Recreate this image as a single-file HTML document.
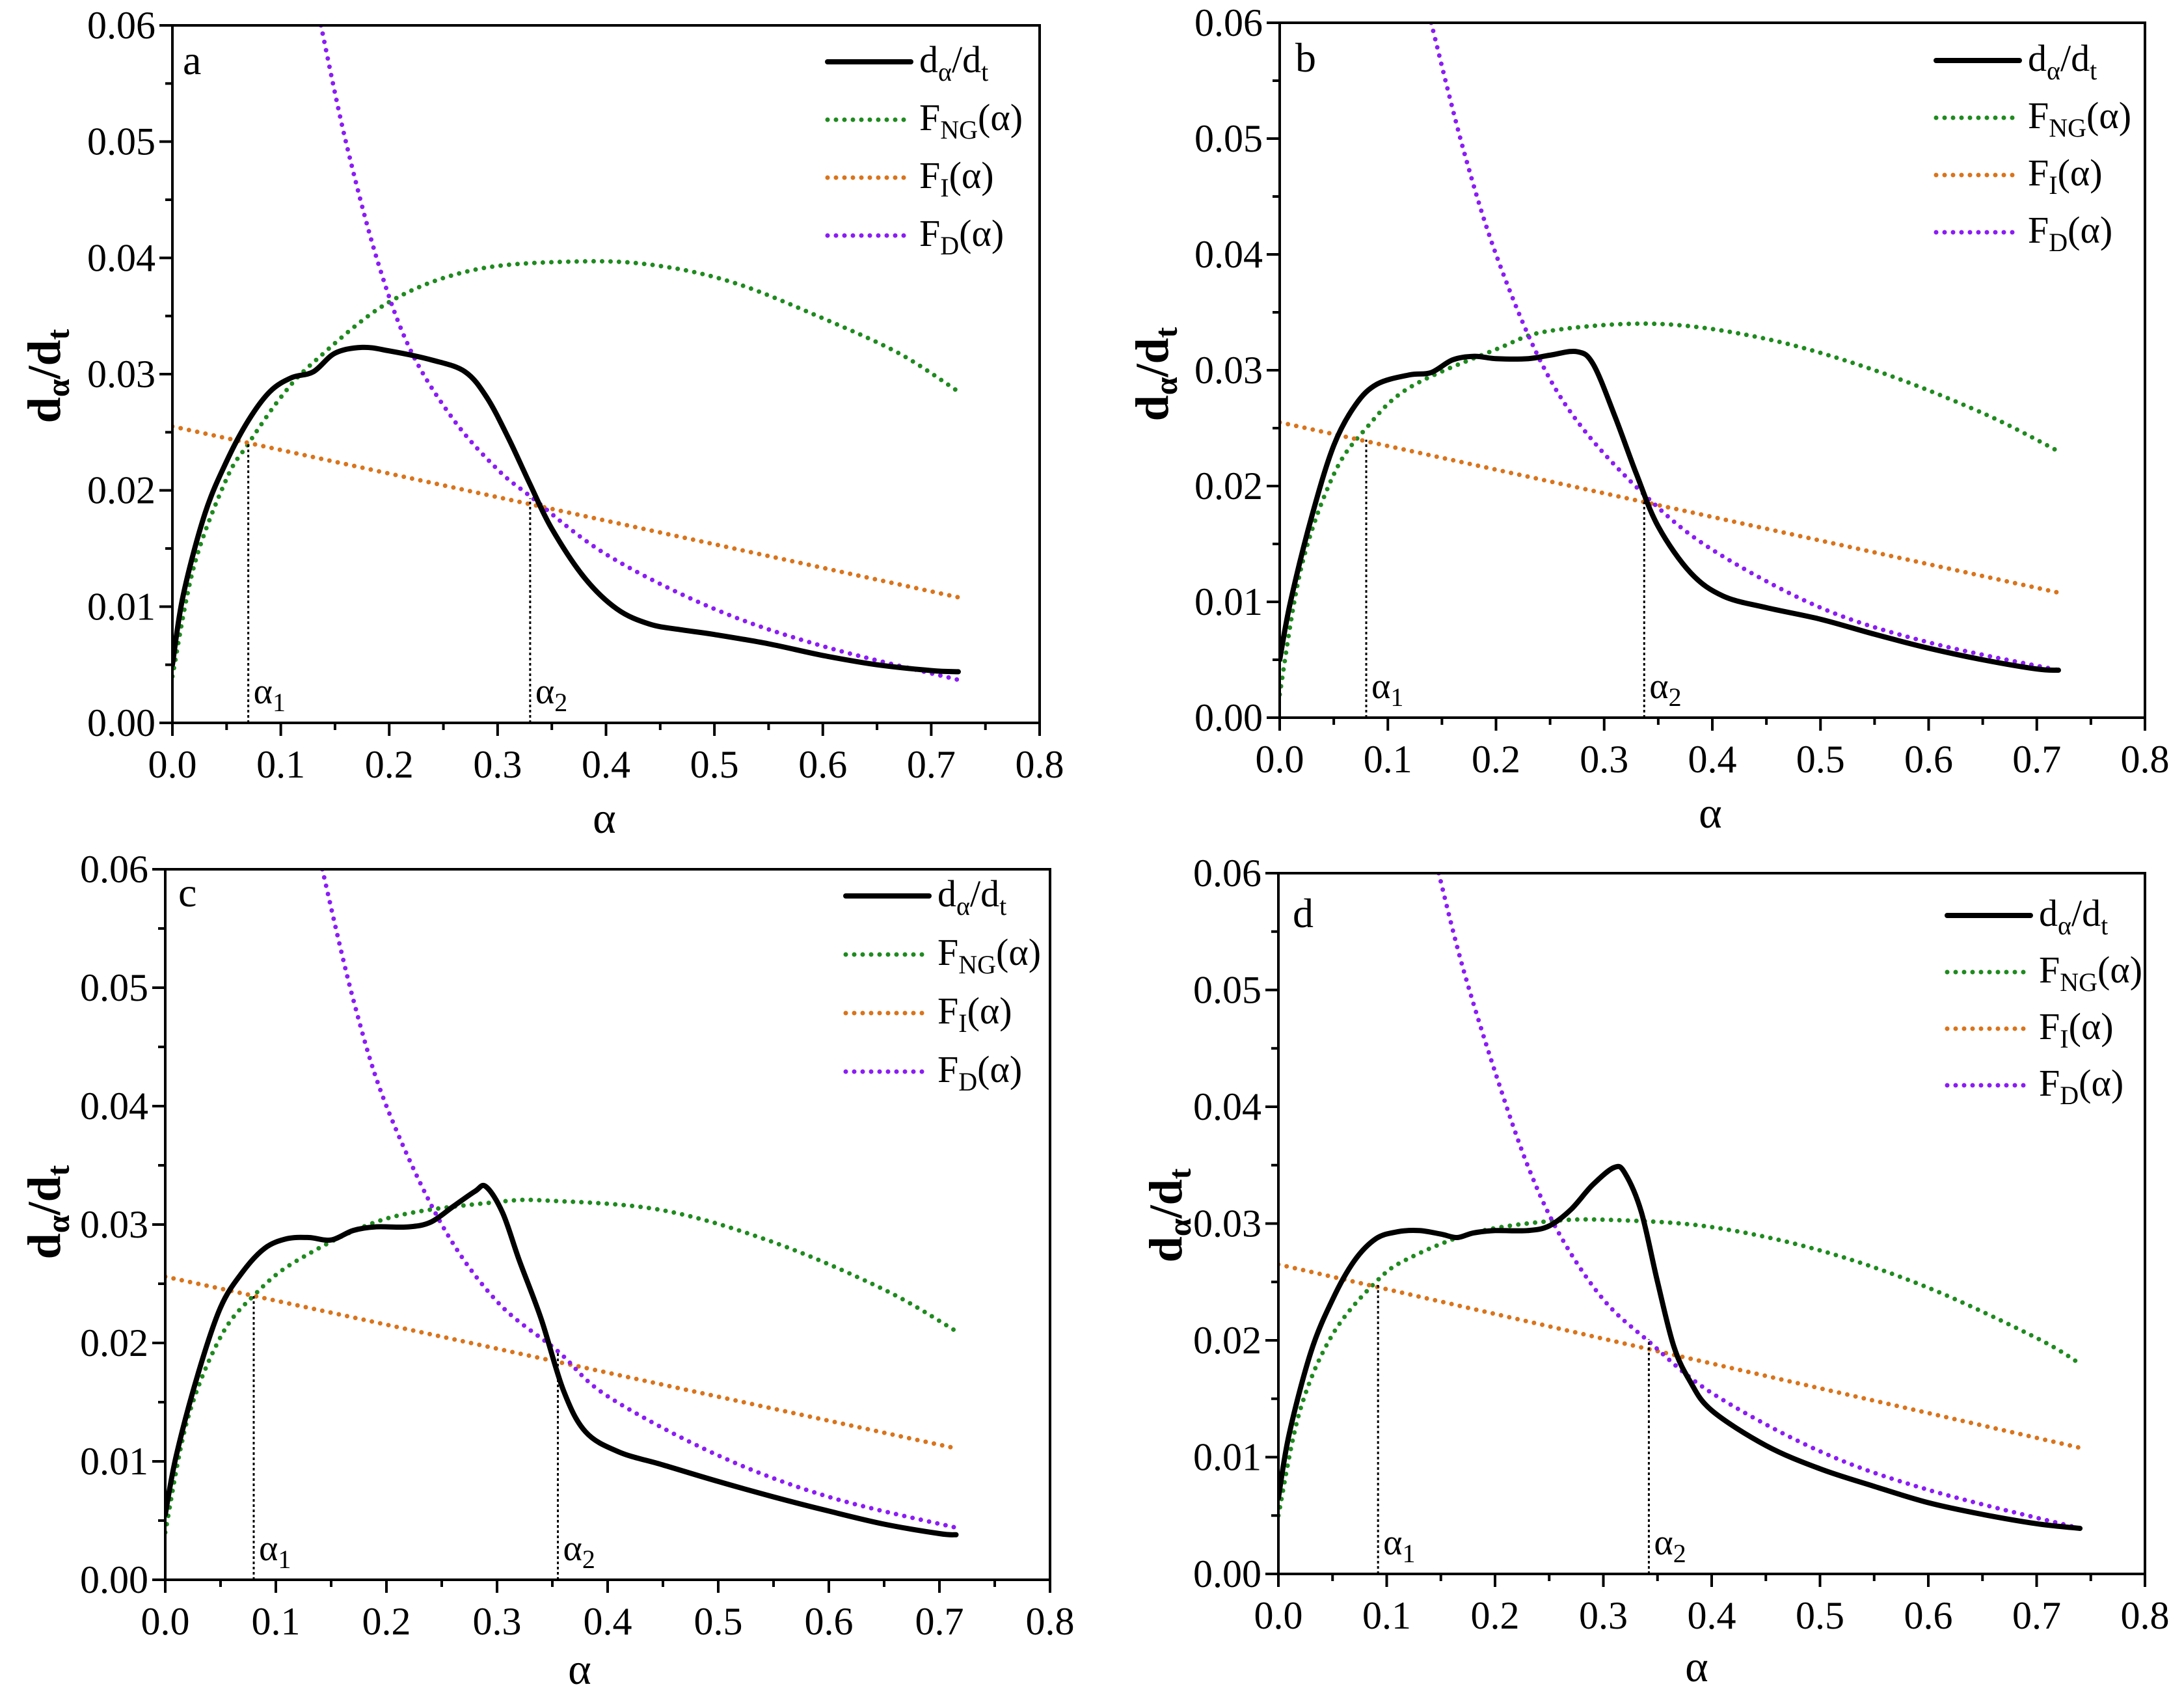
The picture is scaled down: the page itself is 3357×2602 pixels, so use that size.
<!DOCTYPE html>
<html><head><meta charset="utf-8">
<style>
html,body{margin:0;padding:0;background:#fff;}
svg{display:block;font-family:"Liberation Serif","Times New Roman",serif;}
</style></head>
<body>
<svg id="fig" width="3357" height="2602" viewBox="0 0 3357 2602" xmlns="http://www.w3.org/2000/svg"></svg>
<script>
// ---- data (alpha, value) per panel ----
const panelLetters = ["a","b","c","d"];
const xTicks = [0,0.1,0.2,0.3,0.4,0.5,0.6,0.7,0.8];
const xTickLabels = ["0.0","0.1","0.2","0.3","0.4","0.5","0.6","0.7","0.8"];
const yTicks = [0,0.01,0.02,0.03,0.04,0.05,0.06];
const yTickLabels = ["0.00","0.01","0.02","0.03","0.04","0.05","0.06"];

const rateA = [[0,0.005],[0.01,0.011],[0.03,0.018],[0.05,0.0225],[0.07,0.026],[0.09,0.0285],[0.11,0.0297],[0.13,0.0302],[0.15,0.0318],[0.175,0.0323],[0.2,0.032],[0.24,0.0312],[0.27,0.0302],[0.29,0.028],[0.31,0.0245],[0.33,0.0205],[0.35,0.0167],[0.38,0.0125],[0.41,0.0098],[0.44,0.0085],[0.47,0.008],[0.5,0.0076],[0.55,0.0068],[0.6,0.0058],[0.65,0.005],[0.7,0.0045],[0.725,0.0044]];
const ngA = [[0,0.004],[0.02,0.0135],[0.05,0.021],[0.07,0.024],[0.1,0.028],[0.13,0.031],[0.2,0.0362],[0.28,0.039],[0.38,0.0397],[0.45,0.0393],[0.52,0.0378],[0.6,0.0348],[0.67,0.0318],[0.725,0.0285]];
const fiA = [[0,0.0255],[0.725,0.0108]];
const fdA = [[0.137,0.06],[0.16,0.05],[0.19,0.0395],[0.22,0.032],[0.26,0.026],[0.3,0.0218],[0.33,0.0195],[0.4,0.0145],[0.5,0.0098],[0.6,0.0066],[0.725,0.0037]];
const alphaA = [[0.07,0.024],[0.33,0.0193]];

const rateB = [[0,0.005],[0.01,0.01],[0.03,0.0175],[0.05,0.0235],[0.07,0.027],[0.09,0.0288],[0.12,0.0296],[0.14,0.0298],[0.16,0.0309],[0.18,0.0312],[0.2,0.031],[0.23,0.031],[0.25,0.0313],[0.275,0.0316],[0.29,0.0305],[0.31,0.026],[0.33,0.021],[0.35,0.0165],[0.38,0.0125],[0.41,0.0105],[0.45,0.0095],[0.5,0.0085],[0.55,0.0072],[0.6,0.006],[0.65,0.005],[0.7,0.0042],[0.72,0.0041]];
const ngB = [[0,0.002],[0.02,0.013],[0.05,0.021],[0.08,0.025],[0.12,0.0285],[0.2,0.0318],[0.25,0.0334],[0.35,0.034],[0.45,0.0327],[0.55,0.03],[0.65,0.0263],[0.72,0.023]];
const fiB = [[0,0.0255],[0.72,0.0108]];
const fdB = [[0.14,0.06],[0.17,0.049],[0.2,0.04],[0.24,0.031],[0.28,0.025],[0.34,0.019],[0.4,0.0145],[0.5,0.0095],[0.6,0.0065],[0.72,0.0041]];
const alphaB = [[0.08,0.024],[0.337,0.0193]];

const rateC = [[0,0.0055],[0.01,0.0105],[0.03,0.0175],[0.05,0.023],[0.07,0.026],[0.09,0.028],[0.11,0.0288],[0.13,0.0289],[0.15,0.0287],[0.17,0.0295],[0.19,0.0298],[0.22,0.0298],[0.24,0.0302],[0.26,0.0315],[0.28,0.0328],[0.29,0.0332],[0.305,0.031],[0.32,0.027],[0.34,0.022],[0.36,0.016],[0.38,0.0125],[0.41,0.0108],[0.45,0.0097],[0.5,0.0083],[0.55,0.007],[0.6,0.0058],[0.65,0.0047],[0.7,0.0039],[0.715,0.0038]];
const ngC = [[0,0.004],[0.02,0.0135],[0.05,0.0205],[0.08,0.024],[0.12,0.027],[0.2,0.0305],[0.3,0.0319],[0.35,0.032],[0.45,0.0312],[0.55,0.0285],[0.65,0.0245],[0.715,0.021]];
const fiC = [[0,0.0256],[0.715,0.0111]];
const fdC = [[0.142,0.06],[0.17,0.049],[0.2,0.04],[0.25,0.03],[0.3,0.0235],[0.355,0.0193],[0.4,0.0155],[0.5,0.0105],[0.6,0.007],[0.715,0.0044]];
const alphaC = [[0.08,0.024],[0.355,0.0193]];

const rateD = [[0,0.0065],[0.01,0.012],[0.03,0.019],[0.05,0.0235],[0.07,0.0268],[0.09,0.0287],[0.11,0.0293],[0.13,0.0294],[0.15,0.0291],[0.165,0.0288],[0.18,0.0292],[0.2,0.0294],[0.23,0.0294],[0.25,0.0298],[0.27,0.0312],[0.29,0.0333],[0.31,0.0348],[0.32,0.0343],[0.335,0.031],[0.35,0.025],[0.365,0.0195],[0.38,0.0165],[0.4,0.014],[0.45,0.011],[0.5,0.009],[0.55,0.0075],[0.6,0.0061],[0.65,0.0051],[0.7,0.0043],[0.74,0.0039]];
const ngD = [[0,0.005],[0.02,0.014],[0.05,0.0205],[0.09,0.025],[0.12,0.027],[0.18,0.0292],[0.25,0.0302],[0.31,0.0303],[0.4,0.0297],[0.5,0.0277],[0.6,0.0245],[0.7,0.0202],[0.74,0.018]];
const fiD = [[0,0.0265],[0.74,0.0108]];
const fdD = [[0.148,0.06],[0.17,0.052],[0.2,0.043],[0.23,0.035],[0.26,0.029],[0.3,0.0235],[0.342,0.0199],[0.4,0.0155],[0.5,0.0105],[0.6,0.0072],[0.74,0.0039]];
const alphaD = [[0.092,0.0249],[0.342,0.0201]];

// ---- layout ----
const panels = [
 {L:265,R:1598,T:39,B:1111, rate:rateA, ng:ngA, fi:fiA, fd:fdA, al:alphaA, leg:[1272,95,89], ylab:[70,578], xlab:[929,1280], let:[281,96]},
 {L:1967,R:3297,T:35,B:1103, rate:rateB, ng:ngB, fi:fiB, fd:fdB, al:alphaB, leg:[2976,93,88], ylab:[1773,575], xlab:[2629,1272], let:[1991,92]},
 {L:254,R:1614,T:1336,B:2428, rate:rateC, ng:ngC, fi:fiC, fd:fdC, al:alphaC, leg:[1300,1377,90], ylab:[70,1863], xlab:[891,2588], let:[274,1375]},
 {L:1965,R:3297,T:1342,B:2419, rate:rateD, ng:ngD, fi:fiD, fd:fdD, al:alphaD, leg:[2993,1407,87], ylab:[1794,1868], xlab:[2608,2584], let:[1987,1407]}
];
const NS="http://www.w3.org/2000/svg";
const svg=document.getElementById('fig');
function el(tag,attrs,parent){const e=document.createElementNS(NS,tag);for(const k in attrs)e.setAttribute(k,attrs[k]);(parent||svg).appendChild(e);return e;}
function smooth(pts){
 if(pts.length<3) return "M"+pts.map(p=>p[0].toFixed(1)+","+p[1].toFixed(1)).join(" L");
 let d="M"+pts[0][0].toFixed(1)+","+pts[0][1].toFixed(1);
 for(let i=0;i<pts.length-1;i++){
  const p0=pts[i-1]||pts[i],p1=pts[i],p2=pts[i+1],p3=pts[i+2]||p2;
  const c1=[p1[0]+(p2[0]-p0[0])/6,p1[1]+(p2[1]-p0[1])/6];
  const c2=[p2[0]-(p3[0]-p1[0])/6,p2[1]-(p3[1]-p1[1])/6];
  d+=` C${c1[0].toFixed(1)},${c1[1].toFixed(1)} ${c2[0].toFixed(1)},${c2[1].toFixed(1)} ${p2[0].toFixed(1)},${p2[1].toFixed(1)}`;
 }
 return d;
}
const colors={ng:"#1f8a1f",fi:"#d9741c",fd:"#8b1cf5"};
panels.forEach((P,pi)=>{
 const g=el('g',{});
 
 
 const sx=v=>P.L+(P.R-P.L)*v/0.8;
 const sy=v=>P.B-(P.B-P.T)*v/0.06;
 const clip=el('clipPath',{id:'clip'+pi},g);
 el('rect',{x:P.L,y:P.T,width:P.R-P.L,height:P.B-P.T},clip);
 const plot=el('g',{'clip-path':`url(#clip${pi})`},g);
 const map=a=>a.map(p=>[sx(p[0]),sy(p[1])]);
 const dot={'stroke-width':7,'stroke-linecap':'round','stroke-dasharray':'0 13',fill:'none'};
 [['ng','fng-curve'],['fi','fi-line'],['fd','fd-curve']].forEach(([k,n])=>{
  const p=el('path',Object.assign({d:smooth(map(P[k])),stroke:colors[k]},dot),plot);
  
  
 });
 const rp=el('path',{d:smooth(map(P.rate)),stroke:'#000','stroke-width':8,fill:'none','stroke-linejoin':'round','stroke-linecap':'round'},plot);
 
 
 P.al.forEach((a,i)=>{
  const ln=el('line',{x1:sx(a[0]),x2:sx(a[0]),y1:sy(0),y2:sy(a[1]),stroke:'#000','stroke-width':3,'stroke-dasharray':'4 4'},g);
  
  
  const t=el('text',{x:sx(a[0])+8,y:P.B-30,'font-size':56},g);
  t.innerHTML=`α<tspan font-size="40" dy="12">${i+1}</tspan>`;
  
  
 });
 const fr=el('rect',{x:P.L,y:P.T,width:P.R-P.L,height:P.B-P.T,fill:'none',stroke:'#000','stroke-width':4},g);
 
 
 xTicks.forEach((v,i)=>{
  el('line',{x1:sx(v),x2:sx(v),y1:P.B,y2:P.B+20,stroke:'#000','stroke-width':4},g);
  if(i<xTicks.length-1) el('line',{x1:sx(v+0.05),x2:sx(v+0.05),y1:P.B,y2:P.B+11,stroke:'#000','stroke-width':4},g);
  const t=el('text',{x:sx(v),y:P.B+84,'font-size':60,'text-anchor':'middle'},g);
  t.textContent=xTickLabels[i];
  
  
 });
 yTicks.forEach((v,i)=>{
  el('line',{x1:P.L-20,x2:P.L,y1:sy(v),y2:sy(v),stroke:'#000','stroke-width':4},g);
  if(i<yTicks.length-1) el('line',{x1:P.L-11,x2:P.L,y1:sy(v+0.005),y2:sy(v+0.005),stroke:'#000','stroke-width':4},g);
  const t=el('text',{x:P.L-26,y:sy(v)+20,'font-size':60,'text-anchor':'end'},g);
  t.textContent=yTickLabels[i];
  
  
 });
 const xt=el('text',{x:P.xlab[0],y:P.xlab[1],'font-size':68,'text-anchor':'middle'},g);
 xt.textContent='α';
 
 
 const yt=el('text',{x:0,y:0,'font-size':72,'font-weight':'bold','text-anchor':'middle',transform:`translate(${P.ylab[0]+22},${P.ylab[1]}) rotate(-90)`},g);
 yt.innerHTML='d<tspan font-size="50" dy="14">α</tspan><tspan dy="-14">/d</tspan><tspan font-size="50" dy="14">t</tspan>';
 
 
 const lt=el('text',{x:P.let[0],y:P.let[1]+18,'font-size':64},g);
 lt.textContent=panelLetters[pi];
 
 
 const [lx,ly,ld]=P.leg;
 const entries=[['#000','d<tspan font-size="40" dy="13">α</tspan><tspan dy="-13">/d</tspan><tspan font-size="40" dy="13">t</tspan>','legend-rate'],
   [colors.ng,'F<tspan font-size="40" dy="13">NG</tspan><tspan dy="-13">(α)</tspan>','legend-fng'],
   [colors.fi,'F<tspan font-size="40" dy="13">I</tspan><tspan dy="-13">(α)</tspan>','legend-fi'],
   [colors.fd,'F<tspan font-size="40" dy="13">D</tspan><tspan dy="-13">(α)</tspan>','legend-fd']];
 entries.forEach((e,i)=>{
  const y=ly+i*ld;
  const lg=el('g',{},g);
  
  
  if(i===0) el('line',{x1:lx,x2:lx+128,y1:y,y2:y,stroke:'#000','stroke-width':8,'stroke-linecap':'round'},lg);
  else el('line',Object.assign({x1:lx,x2:lx+128,y1:y,y2:y,stroke:e[0]},dot),lg);
  const t=el('text',{x:lx+141,y:y+16,'font-size':58},lg);
  t.innerHTML=e[1];
 });
});
</script>
</body></html>
